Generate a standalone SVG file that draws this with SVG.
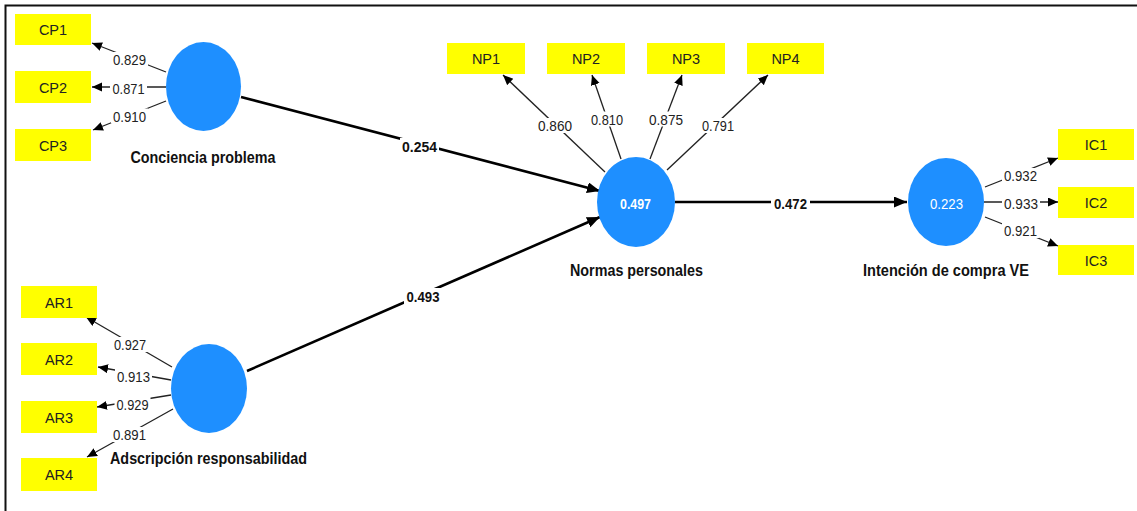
<svg xmlns="http://www.w3.org/2000/svg" width="1137" height="511" viewBox="0 0 1137 511">
<style>
.ind{fill:#ffff00;}
.lv{fill:#1e8fff;}
.bg{fill:#fff;}
.it{font-family:"Liberation Sans",Arial,sans-serif;font-size:14.5px;fill:#222;text-anchor:middle;}
.ld{font-family:"Liberation Sans",Arial,sans-serif;font-size:14.5px;fill:#222;text-anchor:middle;}
.pc{font-family:"Liberation Sans",Arial,sans-serif;font-size:15px;font-weight:bold;fill:#111;text-anchor:middle;}
.nm{font-family:"Liberation Sans",Arial,sans-serif;font-size:16.5px;font-weight:bold;fill:#111;text-anchor:middle;paint-order:stroke;stroke:#fff;stroke-width:3px;stroke-linejoin:round;}
.r2{font-family:"Liberation Sans",Arial,sans-serif;font-size:14.5px;fill:#fff;text-anchor:middle;}
.thin{stroke:#222;stroke-width:1.3;fill:none;marker-end:url(#ah);}
.thick{stroke:#000;stroke-width:2.6;fill:none;marker-end:url(#ahb);}
</style>
<defs>
<marker id="ah" markerUnits="userSpaceOnUse" markerWidth="11" markerHeight="10" refX="10" refY="4.5" orient="auto" viewBox="0 0 11 10">
<path d="M0,0 L10,4.5 L0,9 z" fill="#000"/>
</marker>
<marker id="ahb" markerUnits="userSpaceOnUse" markerWidth="14" markerHeight="12" refX="13" refY="5.5" orient="auto" viewBox="0 0 14 12">
<path d="M0,0 L13,5.5 L0,11 z" fill="#000"/>
</marker>
</defs>
<rect x="0" y="0" width="1137" height="511" fill="#fff"/>
<path d="M5.5,511 V5.5 H1137" fill="none" stroke="#111" stroke-width="2"/>

<g id="connectors">
<line class="thin" x1="166" y1="72" x2="92" y2="43"/>
<line class="thin" x1="166" y1="87" x2="92" y2="87"/>
<line class="thin" x1="166" y1="101" x2="93" y2="130"/>
<line class="thin" x1="172" y1="367" x2="86" y2="317"/>
<line class="thin" x1="171" y1="380" x2="98" y2="367"/>
<line class="thin" x1="171" y1="395" x2="97" y2="407"/>
<line class="thin" x1="173" y1="409" x2="87" y2="457"/>
<line class="thin" x1="605" y1="172" x2="503" y2="75"/>
<line class="thin" x1="621" y1="159" x2="592" y2="75"/>
<line class="thin" x1="650" y1="159" x2="682" y2="75"/>
<line class="thin" x1="667" y1="170" x2="768" y2="75"/>
<line class="thin" x1="985" y1="187" x2="1058" y2="158"/>
<line class="thin" x1="984" y1="202" x2="1058" y2="202"/>
<line class="thin" x1="985" y1="217" x2="1058" y2="246"/>
<line class="thick" x1="241" y1="97" x2="600" y2="191"/>
<line class="thick" x1="247" y1="371" x2="600" y2="217"/>
<line class="thick" x1="675" y1="202" x2="907" y2="202"/>
<rect class="bg" x="111" y="52" width="37" height="15"/>
<rect class="bg" x="110" y="81" width="37" height="15"/>
<rect class="bg" x="111" y="108.5" width="37" height="15"/>
<rect class="bg" x="112" y="337" width="36" height="15"/>
<rect class="bg" x="115" y="368.5" width="37" height="15"/>
<rect class="bg" x="114.5" y="397" width="36" height="15"/>
<rect class="bg" x="111" y="427" width="37" height="15"/>
<rect class="bg" x="536" y="118" width="38" height="15"/>
<rect class="bg" x="589" y="111.5" width="36" height="15"/>
<rect class="bg" x="647" y="111.5" width="38" height="15"/>
<rect class="bg" x="700" y="118" width="36" height="15"/>
<rect class="bg" x="1002" y="168" width="37" height="15"/>
<rect class="bg" x="1002" y="196" width="38" height="15"/>
<rect class="bg" x="1002" y="223" width="37" height="15"/>
<rect class="bg" x="400" y="138" width="39" height="16"/>
<rect class="bg" x="404" y="288" width="38" height="16"/>
<rect class="bg" x="771" y="195" width="39" height="16"/>
<text class="ld" x="129.5" y="65" textLength="33" lengthAdjust="spacingAndGlyphs">0.829</text>
<text class="ld" x="128.5" y="94" textLength="32" lengthAdjust="spacingAndGlyphs">0.871</text>
<text class="ld" x="129.5" y="121.5" textLength="33" lengthAdjust="spacingAndGlyphs">0.910</text>
<text class="ld" x="130" y="350" textLength="32" lengthAdjust="spacingAndGlyphs">0.927</text>
<text class="ld" x="133.5" y="381.5" textLength="33" lengthAdjust="spacingAndGlyphs">0.913</text>
<text class="ld" x="132.5" y="410" textLength="32" lengthAdjust="spacingAndGlyphs">0.929</text>
<text class="ld" x="129.5" y="440" textLength="33" lengthAdjust="spacingAndGlyphs">0.891</text>
<text class="ld" x="555" y="131" textLength="34" lengthAdjust="spacingAndGlyphs">0.860</text>
<text class="ld" x="607" y="124.5" textLength="32" lengthAdjust="spacingAndGlyphs">0.810</text>
<text class="ld" x="666" y="124.5" textLength="34" lengthAdjust="spacingAndGlyphs">0.875</text>
<text class="ld" x="718" y="131" textLength="32" lengthAdjust="spacingAndGlyphs">0.791</text>
<text class="ld" x="1020.5" y="181" textLength="33" lengthAdjust="spacingAndGlyphs">0.932</text>
<text class="ld" x="1021" y="209" textLength="34" lengthAdjust="spacingAndGlyphs">0.933</text>
<text class="ld" x="1020.5" y="236" textLength="33" lengthAdjust="spacingAndGlyphs">0.921</text>
<text class="pc" x="419.5" y="151.5" textLength="35" lengthAdjust="spacingAndGlyphs">0.254</text>
<text class="pc" x="423" y="301.5" textLength="33" lengthAdjust="spacingAndGlyphs">0.493</text>
<text class="pc" x="790.5" y="208.5" textLength="33" lengthAdjust="spacingAndGlyphs">0.472</text>
</g>

<g id="CP1"><rect class="ind" x="15" y="14" width="76" height="31"/><text class="it" x="53" y="35">CP1</text></g>
<g id="CP2"><rect class="ind" x="15" y="71" width="76" height="32"/><text class="it" x="53" y="92.5">CP2</text></g>
<g id="CP3"><rect class="ind" x="15" y="129" width="76" height="32"/><text class="it" x="53" y="150.5">CP3</text></g>

<g id="AR1"><rect class="ind" x="21" y="286" width="76" height="32"/><text class="it" x="59" y="307.5">AR1</text></g>
<g id="AR2"><rect class="ind" x="21" y="343" width="76" height="32"/><text class="it" x="59" y="364.5">AR2</text></g>
<g id="AR3"><rect class="ind" x="21" y="401" width="76" height="32"/><text class="it" x="59" y="422.5">AR3</text></g>
<g id="AR4"><rect class="ind" x="21" y="458" width="76" height="33"/><text class="it" x="59" y="480">AR4</text></g>

<g id="NP1"><rect class="ind" x="447" y="43" width="78" height="31"/><text class="it" x="486" y="64">NP1</text></g>
<g id="NP2"><rect class="ind" x="547" y="43" width="78" height="31"/><text class="it" x="586" y="64">NP2</text></g>
<g id="NP3"><rect class="ind" x="647" y="43" width="78" height="31"/><text class="it" x="686" y="64">NP3</text></g>
<g id="NP4"><rect class="ind" x="747" y="43" width="77" height="31"/><text class="it" x="785.5" y="64">NP4</text></g>

<g id="IC1"><rect class="ind" x="1058" y="129" width="76" height="31"/><text class="it" x="1096" y="150">IC1</text></g>
<g id="IC2"><rect class="ind" x="1058" y="187" width="76" height="31"/><text class="it" x="1096" y="208">IC2</text></g>
<g id="IC3"><rect class="ind" x="1058" y="245" width="76" height="30"/><text class="it" x="1096" y="265.5">IC3</text></g>

<g id="ConcienciaProblema">
<ellipse class="lv" cx="203.5" cy="86.5" rx="37.5" ry="44.5"/>
<text class="nm" x="203" y="163" textLength="145" lengthAdjust="spacingAndGlyphs">Conciencia problema</text>
</g>
<g id="AdscripcionResponsabilidad">
<ellipse class="lv" cx="209" cy="388.5" rx="38" ry="44.5"/>
<text class="nm" x="208.5" y="464" textLength="197" lengthAdjust="spacingAndGlyphs">Adscripción responsabilidad</text>
</g>
<g id="NormasPersonales">
<ellipse class="lv" cx="636" cy="202" rx="39" ry="45"/>
<text class="r2" x="635.5" y="208.5" font-weight="bold" textLength="31" lengthAdjust="spacingAndGlyphs">0.497</text>
<text class="nm" x="636.5" y="276" textLength="133" lengthAdjust="spacingAndGlyphs">Normas personales</text>
</g>
<g id="IntencionCompraVE">
<ellipse class="lv" cx="946" cy="202" rx="38" ry="44"/>
<text class="r2" x="946.5" y="208.5" textLength="33" lengthAdjust="spacingAndGlyphs">0.223</text>
<text class="nm" x="946" y="276" textLength="166" lengthAdjust="spacingAndGlyphs">Intención de compra VE</text>
</g>
</svg>
